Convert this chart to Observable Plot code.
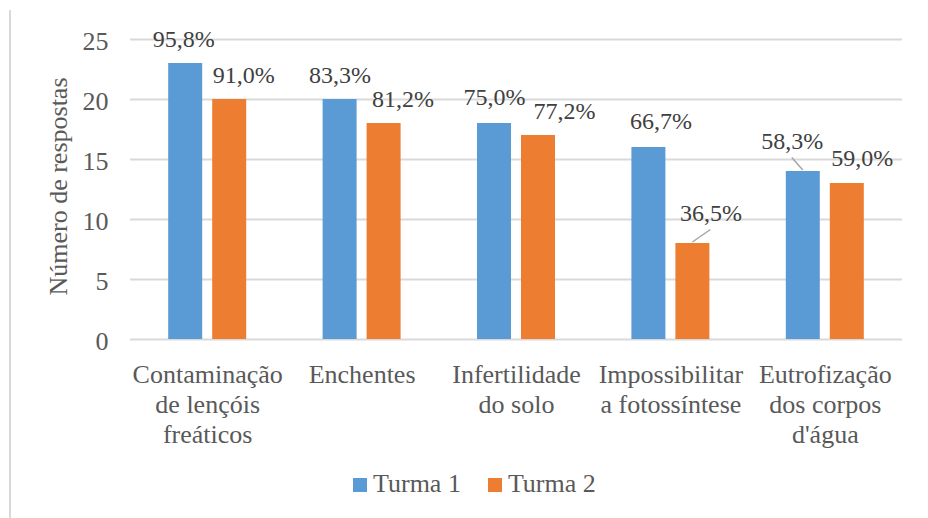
<!DOCTYPE html>
<html>
<head>
<meta charset="utf-8">
<script src="https://cdn.jsdelivr.net/npm/d3@7"></script>
<script src="https://cdn.jsdelivr.net/npm/@observablehq/plot@0.6"></script>
<style>
  body { margin: 0; background: #fff; }
  #wrap { position: relative; width: 928px; height: 518px; font-family: 'Liberation Serif'; overflow: hidden; }
  #border { position: absolute; left: 9px; top: 10px; width: 2px; height: 508px; background: #d9d9d9; }
  #chart { position: absolute; left: 0; top: 0; }
  #legend { position: absolute; left: 353px; top: 471px; display: flex; align-items: center; gap: 27px; font-family: 'Liberation Serif'; font-size: 26px; line-height: 26px; color: #595959; }
  #legend .item { display: flex; align-items: center; }
  #legend .sw { width: 14px; height: 14px; margin-right: 6px; margin-top: 2px; }
  svg text { font-family: 'Liberation Serif'; }
</style>
</head>
<body>
<div id="wrap">
  <div id="border"></div>
  <div id="chart"></div>
  <div id="legend"></div>
</div>
<script>
// ---- data ----
const categories = [
  "Contaminação de lençóis freáticos",
  "Enchentes",
  "Infertilidade do solo",
  "Impossibilitar a fotossíntese",
  "Eutrofização dos corpos d'água"
];
const tickLabels = [
  "Contaminação\nde lençóis\nfreáticos",
  "Enchentes",
  "Infertilidade\ndo solo",
  "Impossibilitar\na fotossíntese",
  "Eutrofização\ndos corpos\nd'água"
];
const series = ["Turma 1", "Turma 2"];
const turma1 = [23, 20, 18, 16, 14];
const turma2 = [20, 18, 17, 8, 13];
const pct1 = ["95,8%", "83,3%", "75,0%", "66,7%", "58,3%"];
const pct2 = ["91,0%", "81,2%", "77,2%", "36,5%", "59,0%"];
const yTicks = [0, 5, 10, 15, 20, 25];
const colors = ["#5B9BD5", "#ED7D31"];

// ---- label layout (pixel nudges, as placed in the original) ----
const labelDx1 = [-2, 0, 0, 12, -11];
const labelGap1 = [17, 17, 19, 19, 23];
const labelDx2 = [14, 19, 26, 18, 15];
const labelGap2 = [17, 17, 17, 23, 18];
const leader1 = [false, false, false, false, true];
const leader2 = [false, false, false, true, false];

// ---- geometry ----
const W = 928, H = 460;
const mL = 130, mR = 26, mT = 39, mB = 121;
const BAR = 34, GAP = 10;
const step = (W - mL - mR) / categories.length;
const pairW = 2 * BAR + GAP;
const pInner = 1 - pairW / step;
const half = (BAR + GAP) / 2;

const data = categories.flatMap((c, i) => [
  {category: c, series: series[0], value: turma1[i], pct: pct1[i], offset: -half, dx: labelDx1[i], gap: labelGap1[i], leader: leader1[i]},
  {category: c, series: series[1], value: turma2[i], pct: pct2[i], offset: half, dx: labelDx2[i], gap: labelGap2[i], leader: leader2[i]}
]);

const font = "'Liberation Serif'";

const leaderMark = (index, scales) => {
  const g = d3.create("svg:g");
  const x = scales.x, y = scales.y;
  const bw = typeof x.bandwidth === "function" ? x.bandwidth() : pairW;
  for (const d of data) {
    if (!d.leader) continue;
    const cx = x(d.category) + bw / 2 + d.offset;
    const ty = y(d.value);
    g.append("line")
      .attr("x1", cx).attr("y1", ty - 1)
      .attr("x2", cx + d.dx).attr("y2", ty - d.gap + 9.5)
      .attr("stroke", "#a6a6a6").attr("stroke-width", 1.5);
  }
  return g.node();
};

const plot = Plot.plot({
  width: W, height: H,
  marginTop: mT, marginBottom: mB, marginLeft: mL, marginRight: mR,
  style: {fontFamily: font, background: "transparent", overflow: "visible"},
  x: {domain: categories, paddingInner: pInner, paddingOuter: pInner / 2, round: false, axis: null},
  y: {domain: [0, 25], axis: null},
  color: {domain: series, range: colors},
  marks: [
    Plot.gridY(yTicks, {stroke: "#d9d9d9", strokeOpacity: 1, strokeWidth: 2}),
    Plot.axisY(yTicks, {tickSize: 0, tickPadding: 22, fontSize: 26, fontFamily: font, fill: "#595959", dy: 2, label: null}),
    Plot.axisX({tickSize: 0, tickPadding: 22.5, fontSize: 26, fontFamily: font, fill: "#595959", lineHeight: 1.154,
      tickFormat: (d) => tickLabels[categories.indexOf(d)], label: null}),
    Plot.text(["Número de respostas"], {text: (d) => d, frameAnchor: "left", textAnchor: "middle", rotate: -90,
      dx: -71.5, dy: -3, fontSize: 26, fontFamily: font, fill: "#595959"}),
    Plot.barY(data.filter((d) => d.series === series[0]), {x: "category", y: "value", fill: "series", insetRight: pairW - BAR}),
    Plot.barY(data.filter((d) => d.series === series[1]), {x: "category", y: "value", fill: "series", insetLeft: pairW - BAR}),
    leaderMark,
    ...data.map((d) => Plot.text([d], {x: "category", y: "value", text: "pct",
      dx: d.offset + d.dx, dy: -d.gap, lineAnchor: "bottom", fontSize: 24, fontFamily: font, fill: "#404040"}))
  ]
});
document.getElementById("chart").appendChild(plot);

// ---- legend ----
const legend = d3.select("#legend");
series.forEach((s, i) => {
  const item = legend.append("div").attr("class", "item");
  item.append("div").attr("class", "sw").style("background", colors[i]);
  item.append("span").text(s);
});
</script>
</body>
</html>
